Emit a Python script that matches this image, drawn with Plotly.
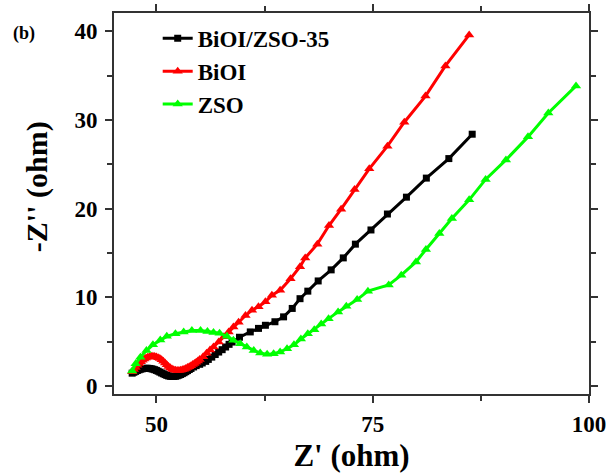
import plotly.graph_objects as go

# BiOI/ZSO-35 (black squares)
bz_x = [47.2, 47.4, 47.6, 47.8, 48.0, 48.2, 48.4, 48.6, 48.8, 49.0, 49.2, 49.4, 49.6, 49.8,
        50.0, 50.2, 50.4, 50.6, 50.8, 51.0, 51.2, 51.4, 51.6, 51.8, 52.0, 52.2, 52.4, 52.6,
        52.8, 53.0, 53.2, 53.4, 53.6, 53.8, 54.0, 54.3, 54.6, 55.0, 55.3, 55.7, 56.0, 56.4,
        56.8, 57.2, 57.6, 58.0, 58.4, 58.75, 59.6, 60.85, 61.8, 62.6, 63.7, 64.7, 65.7, 66.6,
        67.5, 68.7, 70.2, 71.6, 73.0, 74.8, 76.7, 78.9, 81.2, 83.8, 86.5]
bz_y = [1.45, 1.55, 1.65, 1.75, 1.83, 1.9, 1.95, 1.98, 2.0, 2.0, 1.98, 1.95, 1.9, 1.84,
        1.76, 1.67, 1.57, 1.47, 1.38, 1.29, 1.2, 1.14, 1.1, 1.08, 1.08, 1.1, 1.15, 1.22,
        1.3, 1.4, 1.5, 1.62, 1.74, 1.86, 1.98, 2.15, 2.3, 2.45, 2.6, 2.78, 3.0, 3.26,
        3.55, 3.83, 4.1, 4.4, 4.7, 4.96, 5.5, 6.1, 6.5, 6.85, 7.25, 7.8, 8.75, 9.85,
        10.7, 11.85, 13.1, 14.45, 16.0, 17.6, 19.4, 21.3, 23.45, 25.65, 28.4]

# BiOI (red triangles)
bi_x = [47.2, 47.4, 47.6, 47.8, 48.0, 48.2, 48.4, 48.6, 48.8, 49.0, 49.2, 49.4, 49.6, 49.8,
        50.0, 50.2, 50.4, 50.6, 50.8, 51.0, 51.2, 51.4, 51.6, 51.8, 52.0, 52.2, 52.4, 52.6,
        52.8, 53.0, 53.2, 53.4, 53.6, 53.8, 54.0, 54.2, 54.4, 54.6, 54.8, 55.0, 55.4, 55.8,
        56.2, 56.6, 57.2, 57.8, 58.35, 58.9, 59.5, 60.3, 61.05, 61.8, 62.6, 63.35, 64.3,
        65.5, 66.6, 67.2, 68.6, 69.95, 71.35, 72.9, 74.6, 76.7, 78.65, 81.1, 83.4, 86.15]
bi_y = [1.6, 1.85, 2.1, 2.35, 2.55, 2.75, 2.9, 3.05, 3.15, 3.25, 3.3, 3.35, 3.35, 3.32,
        3.28, 3.2, 3.1, 2.95, 2.8, 2.6, 2.4, 2.2, 2.05, 1.92, 1.83, 1.77, 1.75, 1.75,
        1.78, 1.83, 1.9, 1.98, 2.08, 2.18, 2.3, 2.42, 2.55, 2.68, 2.82, 2.98, 3.3, 3.7,
        4.05, 4.4, 4.96, 5.55, 6.1, 6.65, 7.2, 7.95, 8.55, 8.95, 9.5, 10.25, 10.8,
        12.1, 13.45, 14.45, 16.0, 18.1, 19.95, 22.15, 24.5, 27.05, 29.75, 32.7, 36.1, 39.6]

# ZSO (green triangles)
zs_x = [47.2, 47.6, 48.15, 48.85, 49.6, 50.45, 51.2, 52.2, 53.15, 54.1, 55.1, 55.9, 56.6,
        57.3, 58.15, 58.9, 59.7, 60.45, 61.25, 62.0, 62.8, 63.55, 64.3, 65.1, 65.9, 66.7,
        67.5, 68.25, 69.05, 69.9, 71.0, 71.95, 73.2, 74.45, 76.85, 78.3, 80.0, 81.15,
        82.7, 84.15, 86.15, 88.05, 90.4, 92.95, 95.3, 98.5]
zs_y = [1.7, 2.5, 3.25, 4.0, 4.65, 5.2, 5.6, 5.9, 6.1, 6.25, 6.25, 6.15, 6.05,
        5.95, 5.6, 5.15, 4.78, 4.4, 4.02, 3.72, 3.57, 3.65, 3.85, 4.2, 4.65, 5.3,
        5.9, 6.36, 7.0, 7.6, 8.36, 9.0, 9.75, 10.7, 11.4, 12.5, 14.0, 15.4,
        17.2, 18.9, 21.0, 23.3, 25.5, 28.1, 30.8, 33.85]

FONT = "Liberation Serif"

fig = go.Figure()
fig.add_trace(go.Scatter(x=bz_x, y=bz_y, mode="lines+markers", name="BiOI/ZSO-35",
                         line=dict(color="black", width=3),
                         marker=dict(symbol="square", size=7, color="black")))
fig.add_trace(go.Scatter(x=bi_x, y=bi_y, mode="lines+markers", name="BiOI",
                         line=dict(color="#ff0000", width=3),
                         marker=dict(symbol="triangle-up", size=9, color="#ff0000")))
fig.add_trace(go.Scatter(x=zs_x, y=zs_y, mode="lines+markers", name="ZSO",
                         line=dict(color="#00ff00", width=3),
                         marker=dict(symbol="triangle-up", size=9, color="#00ff00")))

axis_common = dict(showline=True, linecolor="#333", linewidth=2, mirror="ticks",
                   ticks="outside", tickcolor="#333", tickwidth=2, ticklen=7,
                   showgrid=False, zeroline=False, automargin=False,
                   tickfont=dict(family=FONT, size=23, color="black", weight="bold"))

fig.update_xaxes(range=[45.1, 100], tick0=0, dtick=25, ticklabelstandoff=1,
                 minor=dict(dtick=12.5, tick0=0, ticks="outside", ticklen=5, tickwidth=2, tickcolor="#333"),
                 title=dict(text="Z' (ohm)", font=dict(family=FONT, size=31, color="black", weight="bold"),
                            standoff=9),
                 **axis_common)
fig.update_yaxes(range=[-0.9, 42.07], tick0=0, dtick=10, ticklabelstandoff=3,
                 minor=dict(dtick=5, tick0=0, ticks="outside", ticklen=5, tickwidth=2, tickcolor="#333"),
                 **axis_common)

# y-axis title (placed as rotated text, as in the original figure)
fig.add_annotation(text="-Z'' (ohm)", xref="paper", yref="paper", x=-0.162, y=0.543,
                   xanchor="center", yanchor="middle", textangle=-90, showarrow=False,
                   font=dict(family=FONT, size=30, color="black", weight="bold"))

fig.add_annotation(text="(b)", xref="paper", yref="paper", x=-0.216, y=0.945,
                   xanchor="left", yanchor="middle", showarrow=False,
                   font=dict(family=FONT, size=18, color="black", weight="bold"))

fig.update_layout(
    width=608, height=475,
    margin=dict(l=114, r=19, t=13, b=81, autoexpand=False),
    paper_bgcolor="white", plot_bgcolor="white",
    showlegend=True,
    legend=dict(x=0.092, y=0.99, xanchor="left", yanchor="top",
                bgcolor="rgba(0,0,0,0)",
                font=dict(family=FONT, size=23, color="black", weight="bold")),
)

fig.write_html("out.html")
